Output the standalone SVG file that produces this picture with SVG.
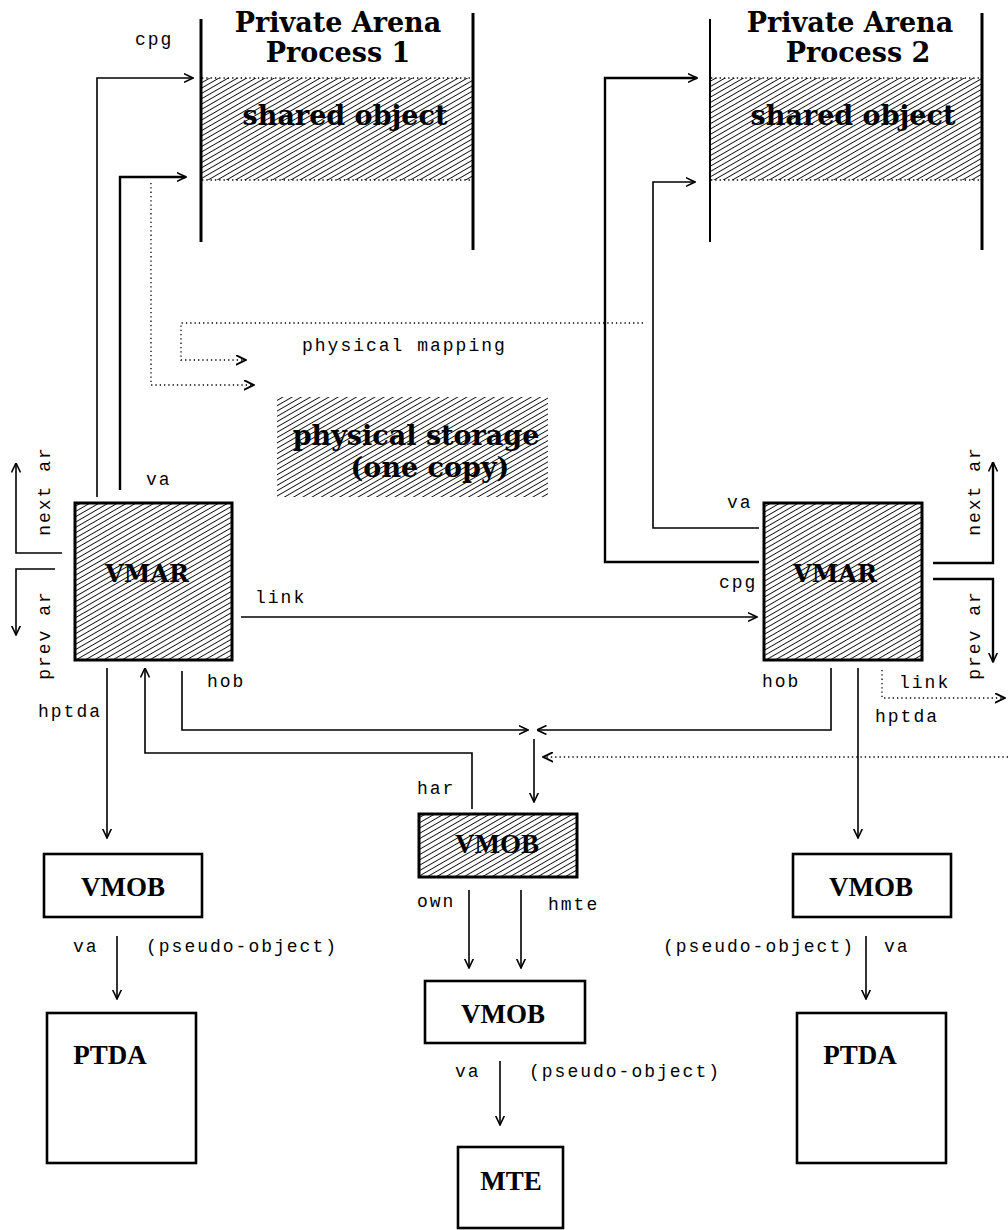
<svg xmlns="http://www.w3.org/2000/svg" width="1008" height="1230" viewBox="0 0 1008 1230">
  <style>
    .bg { fill: #fff; }
    .ln { fill: none; stroke: #000; stroke-width: 1.6; }
    .lnb { fill: none; stroke: #000; stroke-width: 2.4; }
    .dot { fill: none; stroke: #000; stroke-width: 1.3; stroke-dasharray: 1.3 3; }
    .box { fill: #fff; stroke: #000; stroke-width: 2.6; }
    .hbox { fill: url(#hatch); stroke: #000; stroke-width: 3; }
    .band { fill: url(#hatch); stroke: none; }
    .wall { stroke: #000; stroke-width: 3; }
    .lbl { font-family: "Liberation Mono", "DejaVu Sans Mono", monospace; font-size: 18px; letter-spacing: 2px; fill: #000; }
    .ttl { font-family: "DejaVu Serif", "Liberation Serif", serif; font-weight: bold; font-size: 27px; fill: #000; text-anchor: middle; }
    .nm { font-family: "Liberation Serif", "DejaVu Serif", serif; font-weight: bold; font-size: 27px; fill: #000; text-anchor: middle; }
    .nmv { font-family: "DejaVu Serif", "Liberation Serif", serif; font-weight: bold; font-size: 24px; fill: #000; text-anchor: middle; }
  </style>
  <defs>
    <pattern id="hatch" patternUnits="userSpaceOnUse" width="10" height="4.6" patternTransform="rotate(-30)">
      <line x1="0" y1="2.3" x2="10" y2="2.3" stroke="#000" stroke-width="0.9"/>
    </pattern>
    <marker id="arr" viewBox="0 0 10 10" refX="9.5" refY="5" markerWidth="10" markerHeight="10" markerUnits="userSpaceOnUse" orient="auto">
      <path d="M0,0.5 L9.5,5 L0,9.5" fill="none" stroke="#000" stroke-width="1.6"/>
    </marker>
    <marker id="arrd" viewBox="0 0 10 10" refX="9.5" refY="5" markerWidth="11" markerHeight="11" markerUnits="userSpaceOnUse" orient="auto">
      <path d="M0,0.5 L9.5,5 L0,9.5" fill="none" stroke="#000" stroke-width="1.8"/>
    </marker>
  </defs>

  <rect class="bg" x="0" y="0" width="1008" height="1230"/>

  <!-- private arena, process 1 -->
  <g id="arena1">
    <rect class="band" x="202" y="78" width="271" height="102"/>
    <line class="dot" x1="202" y1="78" x2="473" y2="78"/>
    <line class="dot" x1="202" y1="180" x2="473" y2="180"/>
    <line class="wall" x1="201" y1="19" x2="201" y2="242"/>
    <line class="wall" x1="473" y1="13" x2="473" y2="250"/>
    <text class="ttl" x="338" y="32">Private Arena</text>
    <text class="ttl" x="338" y="62">Process 1</text>
    <text class="ttl" x="345" y="125">shared object</text>
  </g>

  <!-- private arena, process 2 -->
  <g id="arena2">
    <rect class="band" x="711" y="78" width="271" height="102"/>
    <line class="dot" x1="711" y1="78" x2="982" y2="78"/>
    <line class="dot" x1="711" y1="180" x2="982" y2="180"/>
    <line class="wall" x1="710" y1="19" x2="710" y2="242" style="stroke-width:2"/>
    <line class="wall" x1="982" y1="13" x2="982" y2="250"/>
    <text class="ttl" x="850" y="32">Private Arena</text>
    <text class="ttl" x="858" y="62">Process 2</text>
    <text class="ttl" x="853" y="125">shared object</text>
  </g>

  <!-- physical storage -->
  <g id="storage">
    <rect class="band" x="277" y="397" width="271" height="100"/>
    <text class="ttl" x="416" y="445">physical storage</text>
    <text class="ttl" x="430" y="477">(one copy)</text>
  </g>

  <!-- address regions -->
  <g id="vmar1">
    <rect class="hbox" x="75" y="503" width="157" height="157"/>
    <text class="nmv" x="147" y="582">VMAR</text>
  </g>
  <g id="vmar2">
    <rect class="hbox" x="764" y="503" width="158" height="157"/>
    <text class="nmv" x="835" y="582">VMAR</text>
  </g>

  <!-- memory objects -->
  <g id="vmob-left">
    <rect class="box" x="44" y="854" width="158" height="63"/>
    <text class="nm" x="123" y="896">VMOB</text>
  </g>
  <g id="vmob-shared">
    <rect class="hbox" x="419" y="814" width="158" height="63"/>
    <text class="nm" x="497" y="853">VMOB</text>
  </g>
  <g id="vmob-center">
    <rect class="box" x="425" y="981" width="160" height="62"/>
    <text class="nm" x="503" y="1023">VMOB</text>
  </g>
  <g id="vmob-right">
    <rect class="box" x="793" y="854" width="158" height="63"/>
    <text class="nm" x="871" y="896">VMOB</text>
  </g>
  <g id="ptda-left">
    <rect class="box" x="47" y="1013" width="149" height="150"/>
    <text class="nm" x="110" y="1064">PTDA</text>
  </g>
  <g id="ptda-right">
    <rect class="box" x="797" y="1013" width="149" height="150"/>
    <text class="nm" x="860" y="1064">PTDA</text>
  </g>
  <g id="mte">
    <rect class="box" x="458" y="1147" width="105" height="81"/>
    <text class="nm" x="511" y="1190">MTE</text>
  </g>

  <!-- connectors -->
  <g id="connectors">
    <path class="ln" d="M97,497 V78 H193" marker-end="url(#arr)"/>
    <path class="lnb" d="M120,490 V177 H186" marker-end="url(#arr)"/>
    <path class="dot" d="M151,183 V385 H254" marker-end="url(#arrd)"/>
    <path class="dot" d="M643,323 H181 V360 H246" marker-end="url(#arrd)"/>
    <path class="lnb" d="M759,562 H605 V78 H697" marker-end="url(#arr)"/>
    <path class="ln" d="M759,528 H653 V182 H695" marker-end="url(#arr)"/>

    <path class="ln" d="M62,553 H16 V463" marker-end="url(#arr)"/>
    <path class="ln" d="M55,569 H16 V635" marker-end="url(#arr)"/>
    <path class="lnb" d="M933,563 H993 V462" marker-end="url(#arr)"/>
    <path class="lnb" d="M933,579 H993 V662" marker-end="url(#arr)"/>

    <path class="ln" d="M241,617 H757" marker-end="url(#arr)"/>
    <path class="ln" d="M182,671 V730 H528" marker-end="url(#arr)"/>
    <path class="ln" d="M831,668 V730 H537" marker-end="url(#arr)"/>
    <path class="ln" d="M472,809 V753 H145 V668" marker-end="url(#arr)"/>
    <path class="ln" d="M107,668 V838" marker-end="url(#arr)"/>
    <path class="ln" d="M858,668 V838" marker-end="url(#arr)"/>
    <path class="ln" d="M534,739 V802" marker-end="url(#arr)"/>
    <path class="dot" d="M1008,757 H543" marker-end="url(#arrd)"/>
    <path class="dot" d="M882,670 V698 H1005" marker-end="url(#arrd)"/>

    <path class="ln" d="M469,890 V968" marker-end="url(#arr)"/>
    <path class="ln" d="M521,890 V968" marker-end="url(#arr)"/>
    <path class="ln" d="M117,936 V999" marker-end="url(#arr)"/>
    <path class="ln" d="M500,1061 V1125" marker-end="url(#arr)"/>
    <path class="ln" d="M866,936 V999" marker-end="url(#arr)"/>
  </g>

  <!-- connector labels -->
  <g id="labels">
    <text class="lbl" x="135" y="45">cpg</text>
    <text class="lbl" x="146" y="485">va</text>
    <text class="lbl" x="302" y="351">physical mapping</text>
    <text class="lbl" transform="translate(50,491) rotate(-90)" text-anchor="middle">next ar</text>
    <text class="lbl" transform="translate(50,635) rotate(-90)" text-anchor="middle">prev ar</text>
    <text class="lbl" transform="translate(980,491) rotate(-90)" text-anchor="middle">next ar</text>
    <text class="lbl" transform="translate(980,635) rotate(-90)" text-anchor="middle">prev ar</text>
    <text class="lbl" x="255" y="603">link</text>
    <text class="lbl" x="207" y="687">hob</text>
    <text class="lbl" x="38" y="717">hptda</text>
    <text class="lbl" x="727" y="508">va</text>
    <text class="lbl" x="719" y="588">cpg</text>
    <text class="lbl" x="762" y="687">hob</text>
    <text class="lbl" x="899" y="688">link</text>
    <text class="lbl" x="875" y="722">hptda</text>
    <text class="lbl" x="417" y="794">har</text>
    <text class="lbl" x="417" y="907">own</text>
    <text class="lbl" x="548" y="910">hmte</text>
    <text class="lbl" x="73" y="952">va</text>
    <text class="lbl" x="146" y="952">(pseudo-object)</text>
    <text class="lbl" x="663" y="952">(pseudo-object)</text>
    <text class="lbl" x="884" y="952">va</text>
    <text class="lbl" x="455" y="1077">va</text>
    <text class="lbl" x="529" y="1077">(pseudo-object)</text>
  </g>
</svg>
